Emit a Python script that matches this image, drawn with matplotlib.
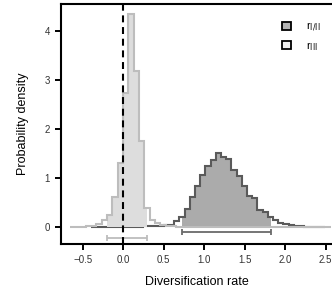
import numpy as np
import matplotlib
matplotlib.use('Agg')
import matplotlib.pyplot as plt
from matplotlib.patches import Rectangle, Patch

plt.rcParams['font.family'] = ['Liberation Sans', 'DejaVu Sans']
plt.rcParams['lines.scale_dashes'] = False

# r_III posterior (light histogram)
r3_start, r3_width = -0.664, 0.066
r3_density = [0.0, 0.005, 0.01, 0.02, 0.03, 0.07, 0.16, 0.25, 0.62, 1.32, 2.74, 4.35,
              3.18, 1.75, 0.40, 0.15, 0.08, 0.05, 0.03, 0.02, 0.01, 0.005]
r3_hpd = [-0.205, 0.29]

# r_I/II posterior (dark histogram)
r12_start, r12_width = -0.399, 0.0643
r12_density = [0.002, 0.003, 0.004, 0.005, 0.006, 0.008, 0.01, 0.012, 0.015, 0.018,
               0.022, 0.027, 0.032, 0.038, 0.045, 0.05,
               0.13, 0.22, 0.37, 0.62, 0.85, 1.07, 1.26, 1.37, 1.51, 1.44, 1.39, 1.17,
               1.05, 0.84, 0.64, 0.59, 0.35, 0.32, 0.22,
               0.15, 0.10, 0.07, 0.05, 0.035, 0.025, 0.018, 0.012, 0.008, 0.005]
r12_hpd = [0.72, 1.82]

xticks = [-0.5, 0.0, 0.5, 1.0, 1.5, 2.0, 2.5]
yticks = [0, 1, 2, 3, 4]

fig = plt.figure(figsize=(3.32, 3.03), dpi=100)
ax = fig.add_axes([0.184, 0.195, 0.816, 0.792])


def histo(start, width, dens, hpd, fill_col, line_col, base_to=None):
    dens = np.array(dens)
    edges = start + width * np.arange(len(dens) + 1)
    if base_to is not None and edges[-1] < base_to:
        extra = int(np.ceil((base_to - edges[-1]) / width))
        dens = np.concatenate([dens, np.zeros(extra)])
        edges = start + width * np.arange(len(dens) + 1)
    filled = ax.stairs(dens, edges, fill=True, color=fill_col, lw=0)
    clip = Rectangle((hpd[0], -1), hpd[1] - hpd[0], 10, transform=ax.transData)
    filled.set_clip_path(clip)
    ax.stairs(dens, edges, color=line_col, lw=1.5, baseline=None)


histo(r12_start, r12_width, r12_density, r12_hpd, '#ababab', '#5a5a5a')
histo(r3_start, r3_width, r3_density, r3_hpd, '#dddddd', '#bdbdbd', base_to=2.52)

# HPD interval bars
ax.errorbar([np.mean(r12_hpd)], [-0.1], xerr=[[np.mean(r12_hpd) - r12_hpd[0]], [r12_hpd[1] - np.mean(r12_hpd)]],
            fmt='none', ecolor='#6a6a6a', elinewidth=1.3, capsize=2, capthick=1.3)
ax.errorbar([np.mean(r3_hpd)], [-0.21], xerr=[[np.mean(r3_hpd) - r3_hpd[0]], [r3_hpd[1] - np.mean(r3_hpd)]],
            fmt='none', ecolor='#bdbdbd', elinewidth=1.3, capsize=2, capthick=1.3)

ax.axvline(0, color='black', lw=1.5, dashes=(5, 3.4))

ax.set_xlim(-0.77, 2.58)
ax.set_ylim(-0.336, 4.55)
ax.set_xticks(xticks)
ax.set_xticklabels(['\u22120.5', '0.0', '0.5', '1.0', '1.5', '2.0', '2.5'])
ax.set_yticks(yticks)
ax.tick_params(labelsize=7, length=4.5, width=1.4, colors='black', labelcolor='#333333')
ax.tick_params(axis='x', pad=3.5)
ax.tick_params(axis='y', pad=3.5)
for s in ['left', 'bottom', 'top']:
    ax.spines[s].set_linewidth(1.5)
ax.spines['right'].set_visible(False)

ax.set_xlabel('Diversification rate', fontsize=9, labelpad=8)
ax.set_ylabel('Probability density', fontsize=9, labelpad=11)

handles = [Patch(facecolor='#b4b4b4', edgecolor='black', lw=1.3),
           Patch(facecolor='#eeeeee', edgecolor='black', lw=1.3)]
ax.legend(handles, [r'r$_{\mathrm{I/II}}$', r'r$_{\mathrm{III}}$'], loc='upper right',
          bbox_to_anchor=(0.995, 0.97), frameon=False, fontsize=8,
          handlelength=0.75, handleheight=0.75, handletextpad=1.4, labelspacing=0.5)

fig.savefig('out.png', dpi=100)
